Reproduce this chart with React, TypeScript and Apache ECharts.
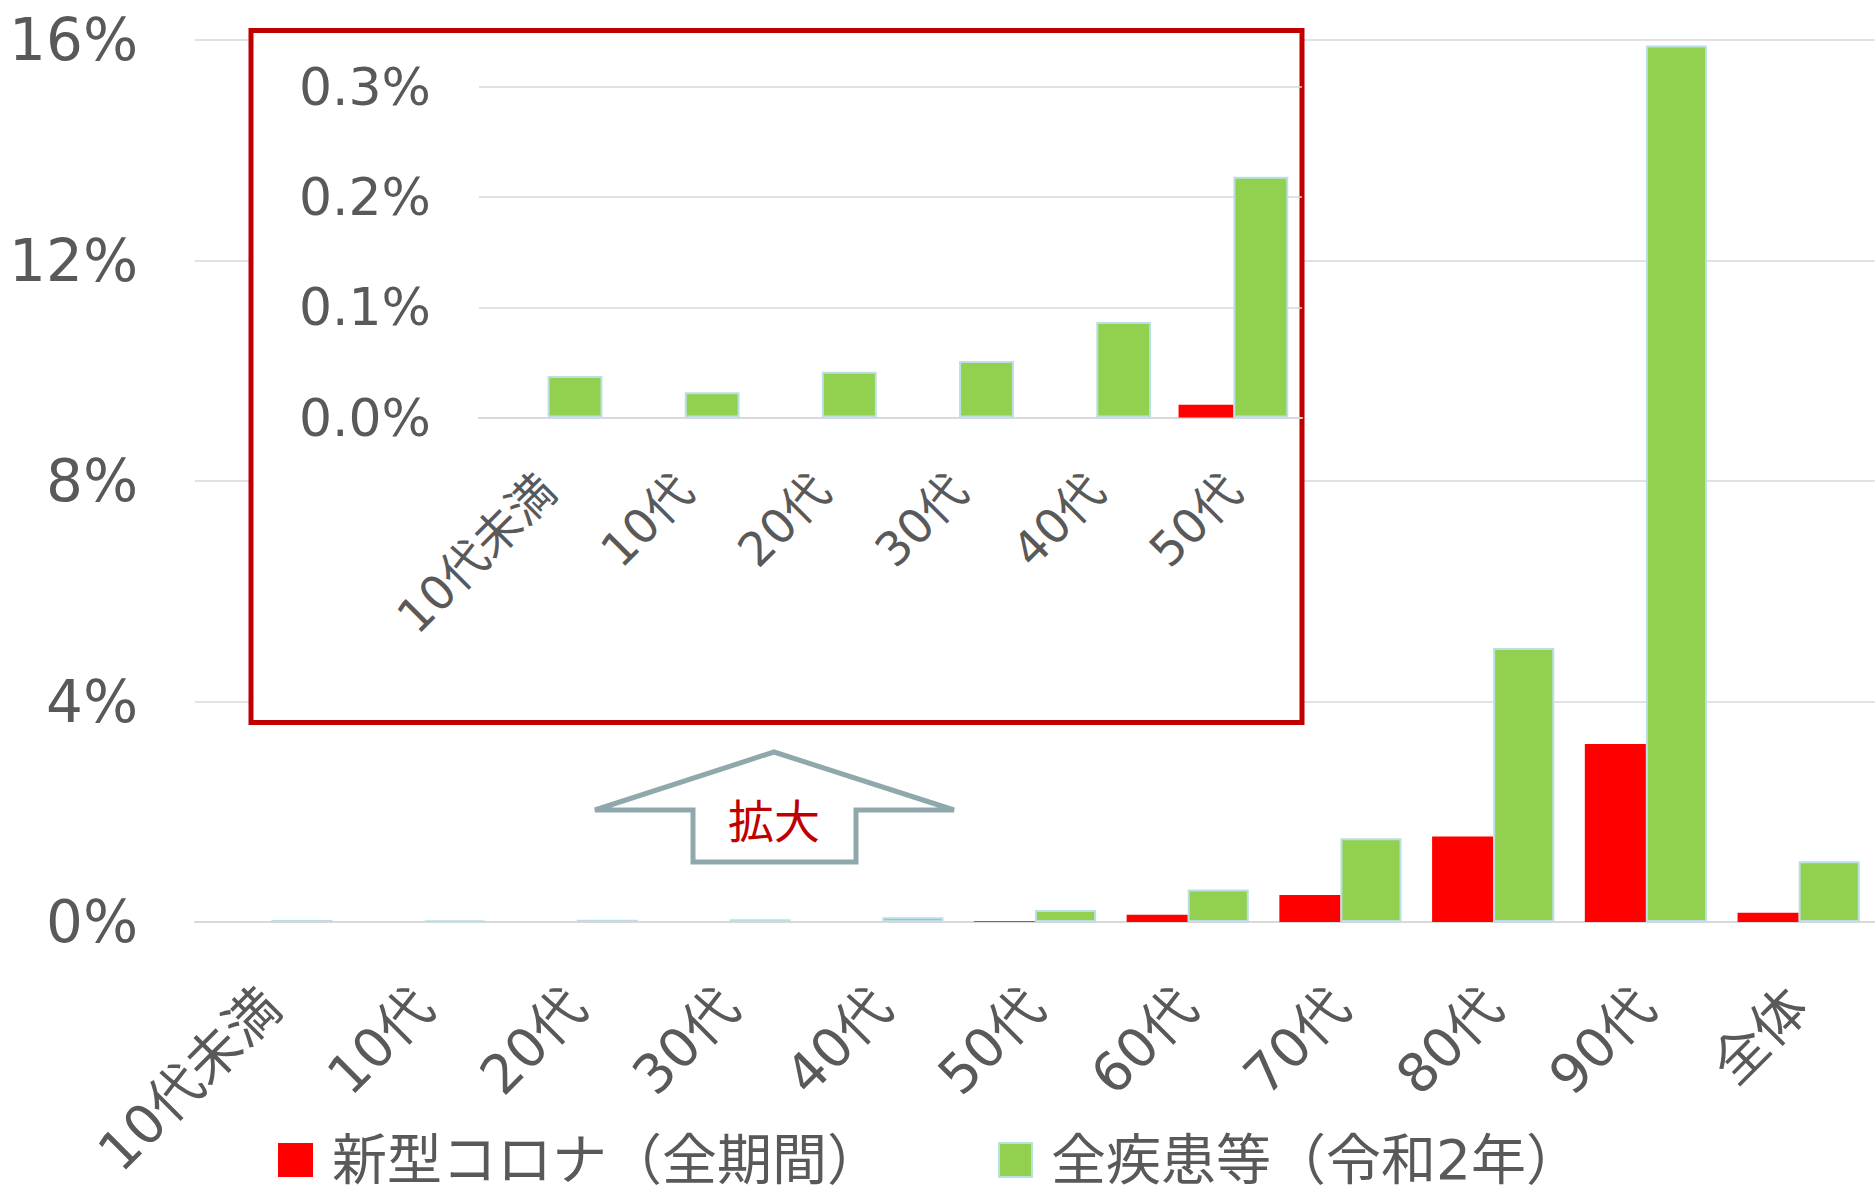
import React, { useEffect, useRef } from 'react';
import * as echarts from 'echarts';

// ---- data ----
const categories = ['10代未満', '10代', '20代', '30代', '40代', '50代', '60代', '70代', '80代', '90代', '全体'];
const covidName = '新型コロナ（全期間）';
const allName = '全疾患等（令和2年）';
// percent
const covidRate = [0, 0, 0, 0, 0, 0.0115, 0.13, 0.49, 1.55, 3.23, 0.17];
const allDiseaseRate = [0.0377, 0.0229, 0.0416, 0.0513, 0.0867, 0.2185, 0.59, 1.52, 4.97, 15.9, 1.1];
const insetCount = 6; // 10代未満 .. 50代 in the magnified panel
const mainTicks = [0, 4, 8, 12, 16];
const insetTicks = [0, 0.1, 0.2, 0.3];
const zoomLabel = '拡大';

const CJK = '"Noto Sans CJK JP", "Noto Sans", sans-serif';
const MIX = '"DejaVu Sans", "Noto Sans CJK JP", sans-serif';
const GREY = '#595959';
const GRID = '#D9D9D9';
const RED = '#FF0000';
const GREEN = '#92D050';
const GREEN_BORDER = '#BCDFE5';

export default function App() {
  const ref = useRef<HTMLDivElement>(null);

  useEffect(() => {
    const chart = echarts.init(ref.current!, null, { renderer: 'svg' });
    const insetCats = categories.slice(0, insetCount);

    const legendText = {
      fontSize: 55,
      color: GREY,
      fontFamily: MIX,
      lineHeight: 55,
      padding: [0, 0, 20, 14],
    };

    const option: any = {
      animation: false,
      backgroundColor: '#ffffff',
      textStyle: { fontFamily: MIX },
      grid: [
        { left: 195, top: 40, width: 1686, height: 882, containLabel: false },
        { left: 479, top: 87, width: 823, height: 330.5, containLabel: false },
      ],
      legend: [
        {
          left: 278,
          top: 1122.5,
          padding: 0,
          data: [covidName],
          icon: 'rect',
          itemWidth: 35,
          itemHeight: 34,
          selectedMode: false,
          textStyle: legendText,
        },
        {
          left: 998,
          top: 1122.5,
          padding: 0,
          data: [allName],
          icon: 'rect',
          itemWidth: 33,
          itemHeight: 34,
          selectedMode: false,
          textStyle: legendText,
        },
      ],
      xAxis: [
        {
          type: 'category',
          gridIndex: 0,
          data: categories,
          axisTick: { show: false },
          axisLine: { lineStyle: { color: GRID, width: 2 } },
          axisLabel: {
            rotate: 45,
            interval: 0,
            margin: 76,
            fontSize: 54,
            color: GREY,
            fontFamily: MIX,
          },
        },
        {
          type: 'category',
          gridIndex: 1,
          data: insetCats,
          z: 10,
          axisTick: { show: false },
          axisLine: { lineStyle: { color: GRID, width: 2 } },
          axisLabel: {
            rotate: 45,
            interval: 0,
            margin: 65,
            fontSize: 47,
            color: GREY,
            fontFamily: MIX,
          },
        },
      ],
      yAxis: [
        {
          type: 'value',
          gridIndex: 0,
          min: mainTicks[0],
          max: mainTicks[mainTicks.length - 1],
          interval: mainTicks[1] - mainTicks[0],
          axisLine: { show: false },
          axisTick: { show: false },
          splitLine: { lineStyle: { color: GRID, width: 1.5 } },
          axisLabel: {
            formatter: '{value}%',
            fontSize: 58,
            color: GREY,
            margin: 57,
            fontFamily: MIX,
            padding: [0, 0, 10, 0],
          },
        },
        {
          type: 'value',
          gridIndex: 1,
          z: 10,
          min: insetTicks[0],
          max: insetTicks[insetTicks.length - 1],
          interval: 0.1,
          axisLine: { show: false },
          axisTick: { show: false },
          splitLine: { lineStyle: { color: GRID, width: 1.5 } },
          axisLabel: {
            formatter: (v: number) => v.toFixed(1) + '%',
            fontSize: 52,
            color: GREY,
            margin: 48,
            fontFamily: MIX,
            padding: [0, 0, 16, 0],
          },
        },
      ],
      series: [
        {
          name: covidName,
          type: 'bar',
          xAxisIndex: 0,
          yAxisIndex: 0,
          data: covidRate,
          barGap: '0%',
          barCategoryGap: '20%',
          itemStyle: { color: RED },
        },
        {
          name: allName,
          type: 'bar',
          xAxisIndex: 0,
          yAxisIndex: 0,
          data: allDiseaseRate,
          barGap: '0%',
          barCategoryGap: '20%',
          itemStyle: { color: GREEN, borderColor: GREEN_BORDER, borderWidth: 2 },
        },
        {
          name: covidName,
          type: 'bar',
          xAxisIndex: 1,
          yAxisIndex: 1,
          z: 11,
          data: covidRate.slice(0, insetCount),
          barGap: '0%',
          barCategoryGap: '20%',
          itemStyle: { color: RED },
        },
        {
          name: allName,
          type: 'bar',
          xAxisIndex: 1,
          yAxisIndex: 1,
          z: 11,
          data: allDiseaseRate.slice(0, insetCount),
          barGap: '0%',
          barCategoryGap: '20%',
          itemStyle: { color: GREEN, borderColor: GREEN_BORDER, borderWidth: 2 },
        },
      ],
      graphic: {
        elements: [
          {
            type: 'rect',
            z: 5,
            shape: { x: 251, y: 30.5, width: 1051, height: 692 },
            style: { fill: '#ffffff', stroke: '#C00000', lineWidth: 5 },
          },
          {
            type: 'polygon',
            z: 5,
            shape: {
              points: [
                [595, 810],
                [774, 752],
                [954, 810],
                [856, 810],
                [856, 862],
                [693, 862],
                [693, 810],
              ],
            },
            style: { fill: '#ffffff', stroke: '#8FA8AB', lineWidth: 5, lineJoin: 'miter' },
          },
          {
            type: 'text',
            z: 6,
            x: 774,
            y: 818,
            style: {
              text: zoomLabel,
              fill: '#C00000',
              fontSize: 46,
              fontFamily: CJK,
              align: 'center',
              verticalAlign: 'middle',
            },
          },
        ],
      },
    };

    chart.setOption(option);
    return () => chart.dispose();
  }, []);

  return (
    <div
      ref={ref}
      style={{ position: 'absolute', left: 0, top: 0, width: 1875, height: 1191, background: '#fff' }}
    />
  );
}
